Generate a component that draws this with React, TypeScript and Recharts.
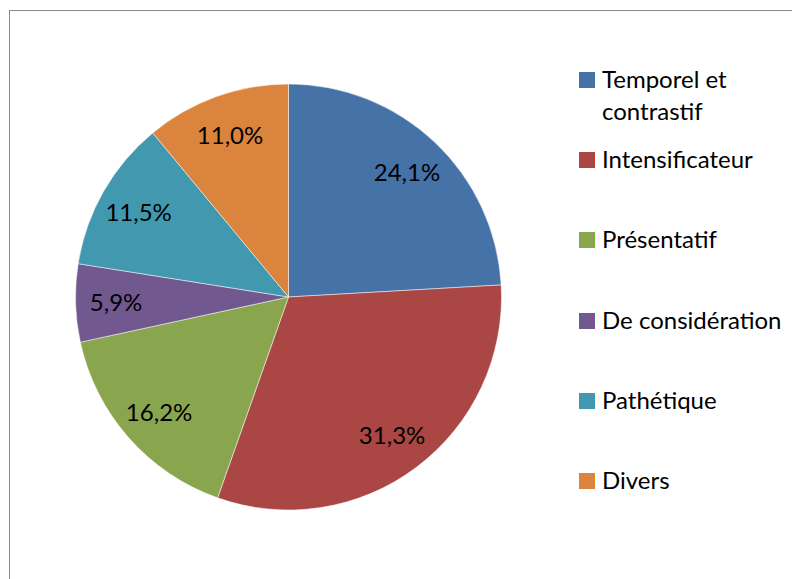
import React from 'react';
import { PieChart, Pie, Cell, Legend } from 'recharts';

const categories = [
  'Temporel et contrastif',
  'Intensificateur',
  'Présentatif',
  'De considération',
  'Pathétique',
  'Divers',
];
const shares = [24.1, 31.3, 16.2, 5.9, 11.5, 11.0];
const colors = ['#4572A7', '#AA4643', '#89A54E', '#71588F', '#4198AF', '#DB843D'];

const data = categories.map((name, i) => ({ name, value: shares[i] }));

const FONT = 'Lato, "Open Sans", sans-serif';
const RAD = Math.PI / 180;

const renderLabel = (props: any) => {
  const { cx, cy, midAngle, outerRadius, value } = props;
  const r = outerRadius * 0.81;
  const x = cx + r * Math.cos(-midAngle * RAD);
  const y = cy + r * Math.sin(-midAngle * RAD);
  return (
    <text
      x={x}
      y={y}
      fill="#000"
      textAnchor="middle"
      dominantBaseline="central"
      fontSize={24}
      fontFamily={FONT}
    >
      {value.toFixed(1).replace('.', ',') + '%'}
    </text>
  );
};

const LegendBox = () => (
  <div style={{ position: 'relative', width: 200, height: 500, fontFamily: FONT }}>
    {categories.map((name, i) => {
      const baseline = i === 0 ? 88 : 168 + (i - 1) * 80.3;
      return (
        <div
          key={name}
          style={{
            position: 'absolute',
            left: 0,
            top: baseline - 105,
            display: 'flex',
            alignItems: 'flex-start',
          }}
        >
          <div
            style={{
              width: 16,
              height: 16,
              background: colors[i],
              marginTop: 9,
              marginRight: 7,
              flexShrink: 0,
            }}
          />
          <div style={{ fontSize: 24, lineHeight: '32px', color: '#000', width: 185 }}>{name}</div>
        </div>
      );
    })}
  </div>
);

export default function App() {
  return (
    <div style={{ position: 'relative', width: 792, height: 571, overflow: 'hidden', background: '#fff' }}>
      <div
        style={{
          position: 'absolute',
          left: 1,
          top: 2,
          width: 1000,
          height: 1000,
          border: '1.5px solid #8a8a8a',
        }}
      />
      <PieChart width={792} height={571} style={{ position: 'absolute', left: 0, top: 0 }}>
        <Pie
          data={data}
          dataKey="value"
          nameKey="name"
          cx={275.5}
          cy={284}
          outerRadius={213}
          startAngle={90}
          endAngle={-270}
          stroke="#ffffff"
          strokeWidth={0.5}
          label={renderLabel}
          labelLine={false}
          isAnimationActive={false}
        >
          {data.map((d, i) => (
            <Cell key={d.name} fill={colors[i]} />
          ))}
        </Pie>
        <Legend
          content={() => <LegendBox />}
          wrapperStyle={{ left: 571, top: 72, width: 220 }}
        />
      </PieChart>
    </div>
  );
}
